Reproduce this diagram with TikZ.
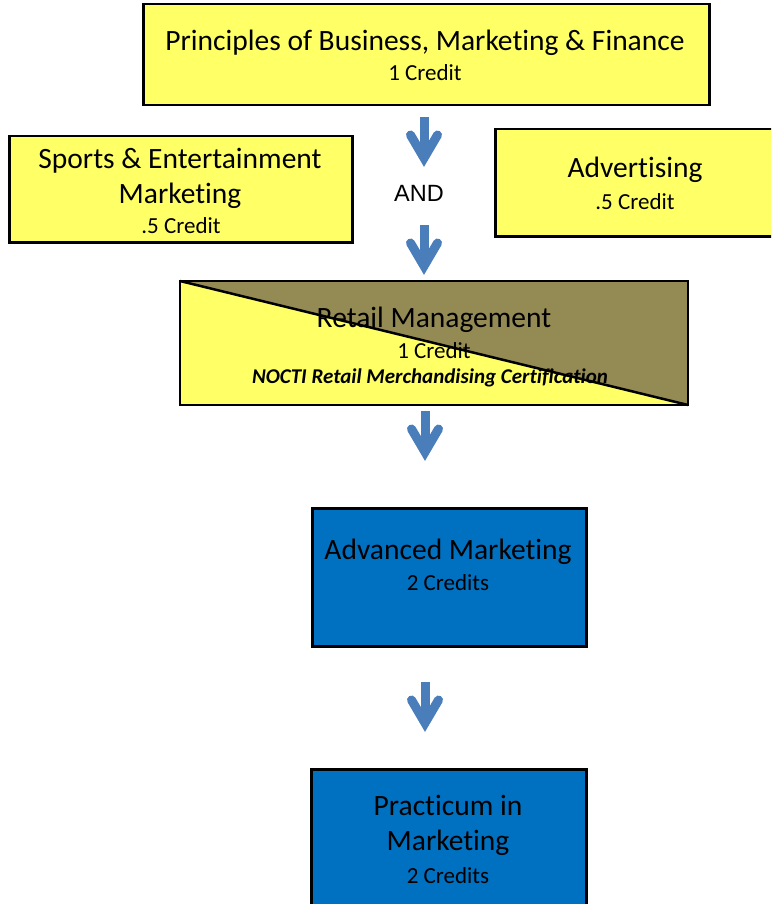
\documentclass[tikz,border=0pt]{standalone}
\usepackage{fontspec}
\setmainfont{Carlito}[Ligatures={NoCommon}]
\newfontfamily\andfont{Liberation Sans}
\definecolor{boxyellow}{HTML}{FFFF66}
\definecolor{boxolive}{HTML}{948A54}
\definecolor{boxblue}{HTML}{0070C0}
\definecolor{arrowblue}{HTML}{4A7EBB}
\tikzset{
  box/.style={draw=black, line width=2.5pt, inner sep=0pt, anchor=north west},
  ybox/.style={box, fill=boxyellow},
  bbox/.style={box, fill=boxblue},
  big/.style={font=\fontsize{29.5}{34}\selectfont},
  small/.style={font=\fontsize{23}{27}\selectfont},
  lbl/.style={inner sep=0pt, align=center, anchor=base},
  arrowline/.style={draw=arrowblue, line width=9pt},
  darrow/.pic={
    \draw[arrowline, line cap=butt] (0,0) -- (0,40);
    \draw[arrowline, line cap=round, line join=miter, miter limit=10] (-13.5,18) -- (0,41) -- (13.5,18);
  }
}
\begin{document}
\begin{tikzpicture}[x=1pt,y=-1pt]
\useasboundingbox (0,0) rectangle (771,904);
\clip (0,0) rectangle (771,904);
% boxes
\node[ybox, minimum width=566pt, minimum height=101pt] (pbmf) at (142,3) {};
\node[ybox, minimum width=343pt, minimum height=106pt] (sem) at (8,135) {};
\node[ybox, minimum width=284pt, minimum height=107pt] (adv) at (494,128) {};
\node[bbox, minimum width=274pt, minimum height=138pt] (am) at (311,507) {};
\node[bbox, minimum width=275pt, minimum height=150pt] (pim) at (310,768) {};
% retail box
\coordinate (rtl) at (180,281);
\coordinate (rtr) at (688,281);
\coordinate (rbr) at (688,405);
\coordinate (rbl) at (180,405);
\fill[boxyellow] (rtl) -- (rtr) -- (rbr) -- (rbl) -- cycle;
\fill[boxolive] (rtl) -- (rtr) -- (rbr) -- cycle;
\draw[line width=2.5pt] (rtl) -- (rbr);
\draw[line width=2.5pt] (rtl) -- (rtr) -- (rbr) -- (rbl) -- cycle;
% texts
\node[lbl, big] (t1a) at (425,51) {Principles of Business, Marketing \& Finance};
\node[lbl, small] (t1b) at (425,81) {1 Credit};
\node[lbl, big] (t2a) at (180,168) {Sports \& Entertainment};
\node[lbl, big] (t2b) at (180,203) {Marketing};
\node[lbl, small] (t2c) at (181,233) {.5 Credit};
\node[lbl, big] (t3a) at (635,178) {Advertising};
\node[lbl, small] (t3b) at (635,209) {.5 Credit};
\node[lbl, font=\andfont\fontsize{23.5}{27}\selectfont] (and) at (419,201) {AND};
\node[lbl, big] (t4a) at (434,327) {Retail Management};
\node[lbl, small] (t4b) at (434,358) {1 Credit};
\node[lbl, font=\fontsize{21}{25}\selectfont\bfseries\itshape] (t4c) at (430,383) {NOCTI Retail Merchandising Certification};
\node[lbl, big] (t5a) at (448,559) {Advanced Marketing};
\node[lbl, small] (t5b) at (448,590) {2 Credits};
\node[lbl, big] (t6a) at (448,815) {Practicum in};
\node[lbl, big] (t6b) at (448,850) {Marketing};
\node[lbl, small] (t6c) at (448,883) {2 Credits};
% arrows
\coordinate (a1) at (424,117);
\coordinate (a2) at (424,225);
\coordinate (a3) at (425,411);
\coordinate (a4) at (425,682);
\pic at (a1) {darrow};
\pic at (a2) {darrow};
\pic at (a3) {darrow};
\pic at (a4) {darrow};
\end{tikzpicture}
\end{document}
